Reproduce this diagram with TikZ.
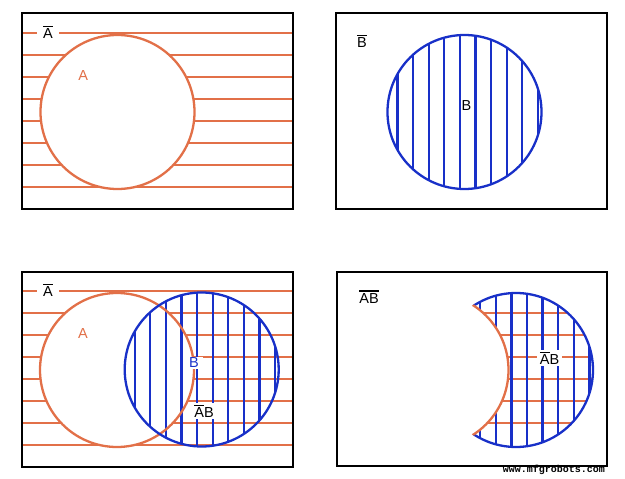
\documentclass[tikz,border=0pt]{standalone}
\usepackage{fontspec}
\setmainfont{Liberation Sans}
\newfontfamily\wmfont{Liberation Mono}
\definecolor{vorange}{RGB}{226,112,72}
\definecolor{vblue}{RGB}{24,48,200}
\newcommand\ovr[2][1.1pt]{\vbox{\hrule height #1\kern1.7pt\hbox{#2}}}
\tikzset{
  frame/.style={draw=black,line width=2.5pt},
  oline/.style={draw=vorange,line width=2.3pt},
  bline/.style={draw=vblue,line width=2.3pt},
  lbl/.style={inner sep=0pt,font=\fontsize{14.5}{14.5}\selectfont},
  wlbl/.style={lbl,fill=white,inner xsep=3pt,inner ysep=1.5pt},
}
\begin{document}
\begin{tikzpicture}[x=1pt,y=-1pt]
\useasboundingbox (0,0) rectangle (625,479);
% ---------- Panel 1 ----------
\foreach \y in {33,55,77,99,121,143,165,187}
  \draw[oline] (22,\y) -- (293,\y);
\fill[white] (117.5,112) circle (77);
\draw[oline] (117.5,112) circle (77);
\node[frame,minimum width=271pt,minimum height=196pt,inner sep=0pt] (f1) at (157.5,111) {};
\node[wlbl,inner xsep=6pt] (nA1) at (48,32) {\ovr{A}};
\node[lbl,text=vorange] (A1) at (83.3,76) {A};
% ---------- Panel 2 ----------
\begin{scope}
  \clip (464.5,112) circle (77);
  \foreach \d in {-67,-51.4,-35.8,-20.2,-4.6,11,26.6,42.2,57.8,73.4}
    \draw[bline] (464.5+\d,30) -- (464.5+\d,195);
\end{scope}
\draw[bline] (464.5,112) circle (77);
\node[frame,minimum width=271pt,minimum height=196pt,inner sep=0pt] (f2) at (471.5,111) {};
\node[lbl] (nB2) at (362,41) {\ovr{B}};
\node[lbl] (B2) at (466.5,106) {B};
% ---------- Panel 3 ----------
\foreach \y in {290.7,312.7,334.7,356.7,378.7,400.7,422.7,444.7}
  \draw[oline] (22,\y) -- (293,\y);
\fill[white] (117,370) circle (77);
\begin{scope}
  \clip (201.7,369.5) circle (77);
  \foreach \d in {-67,-51.4,-35.8,-20.2,-4.6,11,26.6,42.2,57.8,73.4}
    \draw[bline] (201.7+\d,285) -- (201.7+\d,455);
\end{scope}
\draw[oline] (117,370) circle (77);
\draw[bline] (201.7,369.5) circle (77);
\node[frame,minimum width=271pt,minimum height=195pt,inner sep=0pt] (f3) at (157.5,369.5) {};
\node[wlbl,inner xsep=6pt] (nA3) at (48,290) {\ovr{A}};
\node[lbl,text=vorange] (A3) at (83,334) {A};
\node[wlbl,text=vblue,inner xsep=4pt] (B3) at (194,363) {B};
\node[wlbl] (nAB3) at (204,411) {\ovr{A}B};
% ---------- Panel 4 ----------
\begin{scope}
  \clip (516,370) circle (77);
  \foreach \y in {312.7,334.7,356.7,378.7,400.7,422.7}
    \draw[oline] (430,\y) -- (600,\y);
  \foreach \d in {-67,-51.4,-35.8,-20.2,-4.6,11,26.6,42.2,57.8,73.4}
    \draw[bline] (516+\d,285) -- (516+\d,455);
\end{scope}
\draw[bline] (516,370) circle (77);
\fill[white] (431.5,370) circle (77);
\begin{scope}
  \clip (516,370) circle (78);
  \draw[oline] (431.5,370) circle (77);
\end{scope}
\node[frame,minimum width=270pt,minimum height=194pt,inner sep=0pt] (f4) at (472,369) {};
\node[lbl] (nAB4) at (369,297) {\ovr[1.6pt]{AB}};
\node[wlbl] (AB4) at (549.5,358) {\ovr{A}B};
\node[inner sep=0pt,font=\wmfont\bfseries\fontsize{10}{10}\selectfont] (wm) at (554,469.5) {www.mfgrobots.com};
\end{tikzpicture}
\end{document}
